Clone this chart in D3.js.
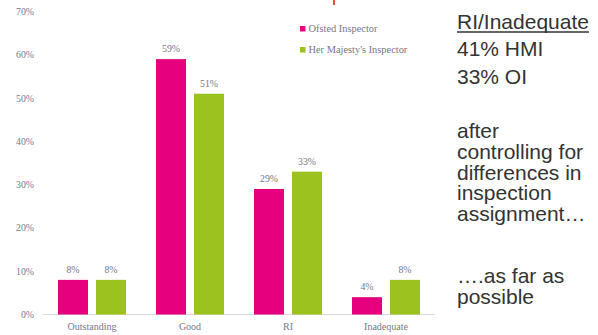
<!DOCTYPE html>
<html><head><meta charset="utf-8">
<script src="https://cdn.jsdelivr.net/npm/d3@7"></script>
<style>body{margin:0;background:#fff}svg{display:block}</style>
</head><body>
<svg id="c" width="598" height="335"></svg>
<script>
const categories = ["Outstanding", "Good", "RI", "Inadequate"];
const seriesNames = ["Ofsted Inspector", "Her Majesty's Inspector"];
const ofsted = [8, 59, 29, 4];
const hmi = [8, 51, 33, 8];
const yTicks = [0, 10, 20, 30, 40, 50, 60, 70];
const sideHeading = "RI/Inadequate";
const sideLines1 = ["41% HMI", "33% OI"];
const sideLines2 = ["after", "controlling for", "differences in", "inspection", "assignment…"];
const sideLines3 = ["….as far as", "possible"];

const colors = ["#e6007e", "#9bc21f"];
const svg = d3.select("#c");
const x = d3.scaleBand().domain(categories).range([43, 435]).paddingInner(0).paddingOuter(0);
const x1 = d3.scaleBand().domain([0, 1]).range([15, 83]).paddingInner(8/38).paddingOuter(0);
const y = d3.scaleLinear().domain([0, 70]).range([314.5, 11.5]);

const serif = "'Liberation Serif', 'Times New Roman', serif";
const gray = "#77778b";

// y tick labels
svg.append("g").selectAll("text").data(yTicks).join("text")
  .attr("x", 34).attr("y", d => y(d) + 3.5)
  .attr("text-anchor", "end").attr("font-family", serif).attr("font-size", 9.8)
  .attr("fill", gray).text(d => d + "%");

// axis line
svg.append("line").attr("x1", 43).attr("x2", 435).attr("y1", y(0)).attr("y2", y(0))
  .attr("stroke", "#d9d9d9").attr("stroke-width", 1);

const data = categories.map((c, i) => ({c, v: [ofsted[i], hmi[i]]}));
const g = svg.append("g").selectAll("g").data(data).join("g")
  .attr("transform", d => `translate(${x(d.c)},0)`);
g.selectAll("rect").data(d => d.v.map((v, k) => ({v, k}))).join("rect")
  .attr("x", d => x1(d.k)).attr("width", x1.bandwidth())
  .attr("y", d => y(d.v)).attr("height", d => y(0) - y(d.v))
  .attr("fill", d => colors[d.k]);
g.selectAll("text.v").data(d => d.v.map((v, k) => ({v, k}))).join("text")
  .attr("class", "v")
  .attr("x", d => x1(d.k) + x1.bandwidth() / 2).attr("y", d => y(d.v) - 7)
  .attr("text-anchor", "middle").attr("font-family", serif).attr("font-size", 9.8)
  .attr("fill", gray).text(d => d.v + "%");

// category labels
svg.append("g").selectAll("text").data(categories).join("text")
  .attr("x", d => x(d) + x.bandwidth() / 2).attr("y", 330)
  .attr("text-anchor", "middle").attr("font-family", serif).attr("font-size", 10)
  .attr("fill", gray).text(d => d);

// legend
const lg = svg.append("g").selectAll("g").data(seriesNames).join("g")
  .attr("transform", (d, i) => `translate(300,${26 + i * 21})`);
lg.append("rect").attr("width", 5.5).attr("height", 5.5).attr("fill", (d, i) => colors[i]);
lg.append("text").attr("x", 8.5).attr("y", 6.3).attr("font-family", serif).attr("font-size", 10.4)
  .attr("fill", gray).text(d => d);

// clipped title fragment
svg.append("rect").attr("x", 333).attr("y", 0).attr("width", 2).attr("height", 5).attr("fill", "#e2553e");

// side text
const sans = "'Liberation Sans', Arial, sans-serif";
const dark = "#333333";
const fs = 21;
const head = svg.append("text").attr("x", 457).attr("y", 28.5).attr("font-family", sans)
  .attr("font-size", fs).attr("fill", dark).text(sideHeading);
const hw = head.node().getComputedTextLength();
svg.append("line").attr("x1", 457).attr("x2", 457 + hw).attr("y1", 32).attr("y2", 32)
  .attr("stroke", dark).attr("stroke-width", 1.6);
svg.append("g").selectAll("text").data(sideLines1).join("text")
  .attr("x", 457).attr("y", (d, i) => 56 + i * 27.5).attr("font-family", sans)
  .attr("font-size", fs).attr("fill", dark).text(d => d);
svg.append("g").selectAll("text").data(sideLines2).join("text")
  .attr("x", 457).attr("y", (d, i) => 138 + i * 20.8).attr("font-family", sans)
  .attr("font-size", fs).attr("fill", dark).text(d => d);
svg.append("g").selectAll("text").data(sideLines3).join("text")
  .attr("x", 457).attr("y", (d, i) => 283 + i * 20.8).attr("font-family", sans)
  .attr("font-size", fs).attr("fill", dark).text(d => d);
</script>
</body></html>
